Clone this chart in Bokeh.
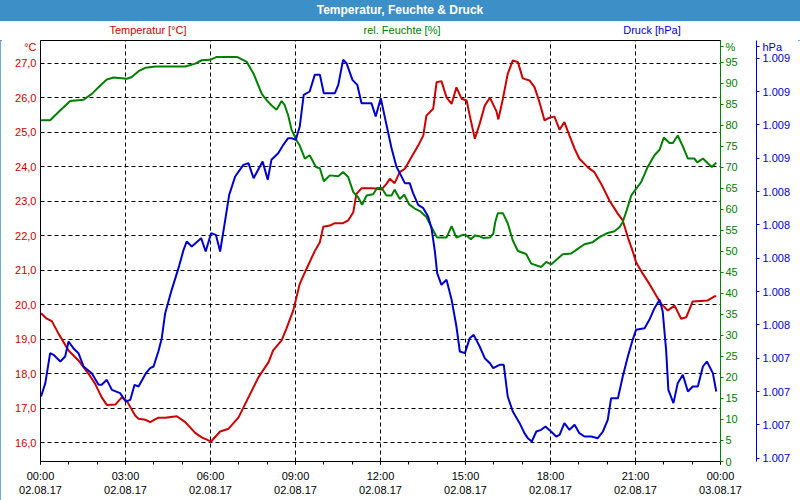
from bokeh.plotting import figure
from bokeh.models import Range1d, LinearAxis, FixedTicker, ColumnDataSource, Div
from bokeh.layouts import column
from bokeh.embed import file_html
from bokeh.resources import INLINE

# ---------------- data ----------------
TITLE = "Temperatur, Feuchte &amp; Druck"
SERIES_NAMES = ["Temperatur [°C]", "rel. Feuchte [%]", "Druck [hPa]"]
UNITS = ["°C", "%", "hPa"]

# hours since 02.08.17 00:00
temp_h = [0.02, 0.22, 0.40, 0.64, 0.99, 1.34, 1.69, 1.93, 2.16, 2.34, 2.64, 2.87, 3.05, 3.34, 3.46, 3.70,
          3.87, 4.16, 4.40, 4.81, 5.11, 5.46, 5.69, 5.93, 6.02, 6.34, 6.64, 6.99, 7.34, 7.69, 8.05, 8.21,
          8.51, 8.68, 8.92, 9.15, 9.39, 9.68, 9.86, 9.98, 10.21, 10.39, 10.68, 10.86, 11.04, 11.15, 11.33,
          11.74, 12.04, 12.21, 12.33, 12.50, 12.68, 12.86, 13.09, 13.33, 13.51, 13.62, 13.86, 13.98, 14.15,
          14.33, 14.51, 14.68, 14.86, 15.04, 15.15, 15.33, 15.50, 15.68, 15.86, 16.09, 16.16, 16.32, 16.49,
          16.67, 16.85, 17.02, 17.26, 17.44, 17.61, 17.79, 17.96, 18.14, 18.32, 18.49, 18.67, 18.85, 19.02,
          19.32, 19.55, 19.79, 20.08, 20.38, 20.55, 20.73, 20.90, 21.02, 21.26, 21.49, 21.73, 21.91, 22.14,
          22.38, 22.61, 22.79, 23.02, 23.55, 23.79, 23.85]
temp_c = [19.75, 19.59, 19.52, 19.15, 18.67, 18.38, 18.00, 17.70, 17.31, 17.09, 17.10, 17.31, 17.20, 16.78,
          16.69, 16.66, 16.59, 16.72, 16.72, 16.76, 16.59, 16.28, 16.15, 16.06, 16.03, 16.32, 16.40, 16.73,
          17.31, 17.89, 18.33, 18.67, 18.96, 19.30, 19.83, 20.60, 21.04, 21.55, 21.81, 22.26, 22.29, 22.36,
          22.36, 22.44, 22.68, 23.21, 23.37, 23.37, 23.34, 23.50, 23.65, 23.52, 23.84, 23.94, 24.27, 24.61,
          24.90, 25.48, 25.68, 26.45, 26.48, 26.01, 25.82, 26.30, 25.97, 25.92, 25.48, 24.81, 25.24, 25.77,
          26.00, 25.61, 25.37, 25.97, 26.69, 27.08, 27.03, 26.56, 26.50, 26.30, 25.87, 25.34, 25.42, 25.45,
          25.07, 25.29, 24.90, 24.52, 24.23, 23.98, 23.84, 23.50, 23.02, 22.63, 22.44, 21.95, 21.55, 21.23,
          20.89, 20.60, 20.26, 20.02, 19.83, 19.97, 19.59, 19.63, 20.09, 20.12, 20.24, 20.24]

hum_h = [0.02, 0.34, 0.70, 1.05, 1.52, 1.81, 2.11, 2.34, 2.58, 3.05, 3.22, 3.46, 3.70, 4.05, 5.11, 5.46,
         5.69, 5.99, 6.22, 6.93, 7.28, 7.52, 7.81, 7.98, 8.15, 8.33, 8.51, 8.62, 8.74, 8.86, 9.04, 9.15,
         9.33, 9.50, 9.72, 9.86, 10.00, 10.21, 10.51, 10.68, 10.86, 11.04, 11.21, 11.35, 11.51, 11.74,
         11.88, 12.04, 12.21, 12.39, 12.50, 12.68, 12.84, 13.01, 13.21, 13.39, 13.62, 13.86, 14.00, 14.33,
         14.51, 14.68, 14.92, 15.04, 15.19, 15.33, 15.50, 15.62, 15.86, 15.98, 16.05, 16.14, 16.32, 16.49,
         16.67, 16.85, 17.14, 17.32, 17.67, 17.85, 18.02, 18.43, 18.73, 18.96, 19.20, 19.49, 19.73, 20.02,
         20.26, 20.44, 20.55, 20.67, 20.85, 21.02, 21.20, 21.43, 21.67, 21.85, 22.00, 22.20, 22.32, 22.49,
         22.67, 22.85, 23.08, 23.18, 23.38, 23.55, 23.69, 23.85]
hum_pct = [81.2, 81.2, 83.6, 85.8, 86.1, 87.5, 89.5, 90.9, 91.4, 91.1, 91.5, 92.9, 93.7, 94.0, 94.0, 94.7,
           95.5, 95.6, 96.3, 96.3, 95.1, 92.3, 87.5, 86.0, 84.8, 83.7, 85.8, 84.8, 82.4, 79.0, 76.4, 75.2,
           72.1, 72.9, 70.1, 69.8, 66.7, 68.1, 67.9, 68.9, 67.7, 64.1, 62.9, 61.1, 63.3, 63.6,
           65.1, 65.1, 63.3, 63.3, 64.7, 62.5, 63.5, 61.2, 60.2, 59.6, 58.2, 55.0, 53.3, 53.3,
           56.0, 53.3, 54.0, 53.8, 52.9, 53.8, 53.6, 53.2, 53.3, 54.2, 57.0, 59.1, 59.1, 56.7,
           52.6, 50.1, 49.4, 47.1, 46.3, 47.5, 46.9, 49.3, 49.5, 50.6, 51.7, 52.2, 53.4, 54.4,
           54.8, 55.8, 57.0, 59.4, 63.3, 64.9, 66.5, 70.1, 72.9, 74.2, 77.1, 75.8, 75.8, 77.6,
           75.0, 72.1, 72.1, 71.2, 72.1, 71.0, 70.1, 71.1]

pres_h = [0.02, 0.17, 0.34, 0.46, 0.70, 0.87, 0.99, 1.16, 1.34, 1.52, 1.81, 2.05, 2.16, 2.34, 2.52, 2.81,
          3.01, 3.17, 3.32, 3.46, 3.72, 3.87, 3.99, 4.16, 4.28, 4.40, 4.63, 4.87, 5.05, 5.16, 5.34, 5.67,
          5.83, 6.02, 6.19, 6.34, 6.52, 6.66, 6.87, 7.16, 7.34, 7.52, 7.84, 8.02, 8.15, 8.39, 8.57, 8.74,
          8.86, 9.01, 9.15, 9.29, 9.50, 9.68, 9.86, 10.00, 10.39, 10.51, 10.68, 10.80, 11.01, 11.18, 11.33,
          11.68, 11.83, 12.01, 12.21, 12.39, 12.56, 12.68, 12.86, 13.03, 13.15, 13.33, 13.51, 13.68, 13.80,
          13.92, 14.00, 14.15, 14.33, 14.51, 14.68, 14.80, 14.98, 15.15, 15.29, 15.50, 15.68, 15.86, 15.98,
          16.20, 16.35, 16.49, 16.67, 16.91, 17.08, 17.20, 17.34, 17.50, 17.67, 17.82, 18.02, 18.20, 18.32,
          18.49, 18.67, 18.85, 19.02, 19.20, 19.44, 19.67, 19.85, 20.02, 20.14, 20.38, 20.55, 20.73, 20.90,
          21.02, 21.32, 21.49, 21.67, 21.85, 21.96, 22.08, 22.16, 22.34, 22.49, 22.67, 22.85, 23.02, 23.20,
          23.38, 23.52, 23.73, 23.85]
pres_hpa = [1007.27, 1007.35, 1007.53, 1007.52, 1007.48, 1007.51, 1007.60, 1007.56, 1007.53, 1007.45, 1007.41,
            1007.34, 1007.34, 1007.37, 1007.31, 1007.29, 1007.24, 1007.25, 1007.34, 1007.33, 1007.41, 1007.44,
            1007.45, 1007.54, 1007.62, 1007.77, 1007.91, 1008.04, 1008.15, 1008.20, 1008.17, 1008.22, 1008.14,
            1008.25, 1008.24, 1008.14, 1008.33, 1008.48, 1008.59, 1008.66, 1008.67, 1008.58, 1008.68, 1008.57,
            1008.69, 1008.73, 1008.78, 1008.82, 1008.82, 1008.81, 1008.89, 1009.08, 1009.10, 1009.20, 1009.20,
            1009.09, 1009.09, 1009.14, 1009.29, 1009.27, 1009.17, 1009.14, 1009.03, 1009.03, 1008.95, 1009.06,
            1008.90, 1008.76, 1008.65, 1008.61, 1008.55, 1008.55, 1008.49, 1008.42, 1008.40, 1008.35, 1008.28,
            1008.14, 1008.01, 1007.94, 1007.97, 1007.85, 1007.69, 1007.54, 1007.53, 1007.62, 1007.64, 1007.57,
            1007.50, 1007.47, 1007.44, 1007.46, 1007.46, 1007.27, 1007.18, 1007.11, 1007.05, 1007.02, 1007.00,
            1007.06, 1007.07, 1007.09, 1007.06, 1007.03, 1007.04, 1007.11, 1007.07, 1007.10, 1007.05, 1007.03,
            1007.03, 1007.02, 1007.06, 1007.13, 1007.26, 1007.26, 1007.39, 1007.51, 1007.61, 1007.67, 1007.68,
            1007.73, 1007.80, 1007.85, 1007.78, 1007.55, 1007.31, 1007.23, 1007.35, 1007.40, 1007.30, 1007.33,
            1007.33, 1007.45, 1007.48, 1007.41, 1007.30]

X_TICKS = [0, 3, 6, 9, 12, 15, 18, 21, 24]
X_LABELS = ["00:00\n02.08.17", "03:00\n02.08.17", "06:00\n02.08.17", "09:00\n02.08.17", "12:00\n02.08.17",
            "15:00\n02.08.17", "18:00\n02.08.17", "21:00\n02.08.17", "00:00\n03.08.17"]
X_MINOR = list(range(0, 25))
T_TICKS = [16, 17, 18, 19, 20, 21, 22, 23, 24, 25, 26, 27]
T_LABELS = ["16,0", "17,0", "18,0", "19,0", "20,0", "21,0", "22,0", "23,0", "24,0", "25,0", "26,0", "27,0"]
H_TICKS = [0, 5, 10, 15, 20, 25, 30, 35, 40, 45, 50, 55, 60, 65, 70, 75, 80, 85, 90, 95]
P_TICKS = [1006.9, 1007.1, 1007.3, 1007.5, 1007.7, 1007.9, 1008.1, 1008.3, 1008.5, 1008.7, 1008.9, 1009.1, 1009.3]
P_LABELS = ["1.007", "1.007", "1.007", "1.007", "1.008", "1.008", "1.008", "1.008", "1.008",
            "1.009", "1.009", "1.009", "1.009"]
# axis-top positions (in each axis' own units) where the unit names are written
UNIT_AT = [27.48, 98.8, 1009.37]

# ---------------- style ----------------
RED = "#cc0000"
GREEN = "#008000"
BLUE = "#0000cc"
BAR = "#3d8fc8"
FONT = "Liberation Sans"

p = figure(width=800, height=460, output_backend="svg", toolbar_location=None,
           x_range=Range1d(0, 24), y_range=Range1d(15.449, 27.658),
           min_border_left=40, min_border_right=80, min_border_top=0, min_border_bottom=39,
           background_fill_color="white", border_fill_color="white")
p.extra_y_ranges = {"hum": Range1d(0, 100.2), "pres": Range1d(1006.88, 1009.406)}
p.outline_line_color = "black"
p.outline_line_width = 1

# x axis
xa = p.below[0]
xa.ticker = FixedTicker(ticks=X_TICKS, minor_ticks=X_MINOR)
xa.major_label_overrides = {t: l for t, l in zip(X_TICKS, X_LABELS)}
xa.major_label_text_font = FONT
xa.major_label_text_font_size = "11px"
xa.major_label_text_color = "black"
xa.major_tick_in = 0
xa.major_tick_out = 3
xa.minor_tick_in = 0
xa.minor_tick_out = 3
xa.major_label_standoff = 5
xa.axis_line_color = "black"

# left axis (temperature)
ya = p.left[0]
ya.ticker = FixedTicker(ticks=T_TICKS + [UNIT_AT[0]])
lab = {t: l for t, l in zip(T_TICKS, T_LABELS)}
lab[UNIT_AT[0]] = UNITS[0]
ya.major_label_overrides = lab
ya.major_label_text_font = FONT
ya.major_label_text_font_size = "11px"
ya.major_label_text_color = RED
ya.major_tick_in = 0
ya.major_tick_out = 0
ya.minor_tick_in = 0
ya.minor_tick_out = 0
ya.major_label_standoff = 4
ya.axis_line_color = "black"

# grid
p.xgrid.grid_line_color = "black"
p.xgrid.grid_line_dash = "4 3"
p.ygrid.ticker = FixedTicker(ticks=T_TICKS)
p.ygrid.grid_line_color = "black"
p.ygrid.grid_line_dash = "4 3"

# right axis: humidity
hlab = {t: str(t) for t in H_TICKS}
hlab[UNIT_AT[1]] = UNITS[1]
ha = LinearAxis(y_range_name="hum", ticker=FixedTicker(ticks=H_TICKS + [UNIT_AT[1]]),
                axis_line_color=GREEN, major_tick_line_color=GREEN,
                major_tick_in=0, major_tick_out=3, minor_tick_in=0, minor_tick_out=0,
                major_label_text_color=GREEN, major_label_text_font=FONT,
                major_label_text_font_size="11px", major_label_standoff=2,
                axis_label=" ", axis_label_standoff=1, axis_label_text_font_size="11px")
ha.major_label_overrides = hlab
p.add_layout(ha, "right")

# right axis: pressure
plab = {t: l for t, l in zip(P_TICKS, P_LABELS)}
plab[UNIT_AT[2]] = UNITS[2]
pa = LinearAxis(y_range_name="pres", ticker=FixedTicker(ticks=P_TICKS + [UNIT_AT[2]]),
                axis_line_color=BLUE, major_tick_line_color=BLUE,
                major_tick_in=0, major_tick_out=3, minor_tick_in=0, minor_tick_out=0,
                major_label_text_color=BLUE, major_label_text_font=FONT,
                major_label_text_font_size="11px", major_label_standoff=3)
pa.major_label_overrides = plab
p.add_layout(pa, "right")

# lines
src_t = ColumnDataSource(dict(h=temp_h, v=temp_c))
src_h = ColumnDataSource(dict(h=hum_h, v=hum_pct))
src_p = ColumnDataSource(dict(h=pres_h, v=pres_hpa))
p.line("h", "v", source=src_t, line_color=RED, line_width=2)
p.line("h", "v", source=src_h, line_color=GREEN, line_width=2, y_range_name="hum")
p.line("h", "v", source=src_p, line_color=BLUE, line_width=2, y_range_name="pres")

# header: title bar + series names
spans = ""
for name, col, xpos in zip(SERIES_NAMES, [RED, GREEN, BLUE], [148, 402, 652]):
    spans += (f'<span style="position:absolute;left:{xpos}px;top:24px;transform:translateX(-50%);'
              f'white-space:nowrap;color:{col};font-size:11px;line-height:13px;">{name}</span>')
html = (f'<div style="position:relative;width:800px;height:40px;overflow:hidden;'
        f'font-family:\'{FONT}\',sans-serif;background:white;">'
        f'<div style="position:absolute;left:0;top:0;width:800px;height:21px;background:{BAR};'
        f'color:white;font-weight:bold;font-size:12px;line-height:21px;text-align:center;'
        f'font-family:\'Liberation Sans Narrow\',\'{FONT}\',sans-serif;">{TITLE}</div>'
        f'{spans}</div>')
header = Div(text=html, width=800, height=40, margin=0)

layout = column(header, p, spacing=0,
                styles={"outline": f"2px solid {BAR}", "outline-offset": "-2px"})

open("out.html", "w").write(file_html(layout, INLINE))
